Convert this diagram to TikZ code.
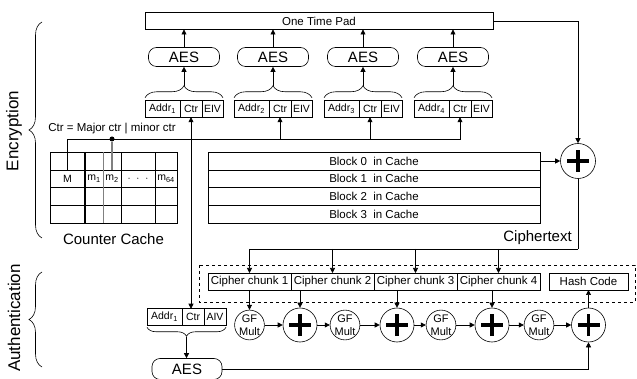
\documentclass[tikz,border=0pt]{standalone}
\usepackage{fontspec}
\setmainfont{Liberation Sans}
\usepackage{tikz}
\usetikzlibrary{positioning, arrows.meta, decorations.pathreplacing}

\newcommand\tinyfs{\fontsize{10.5}{12}\selectfont}
\newcommand\gffs{\fontsize{11}{13.5}\selectfont}
\newcommand\smallfs{\fontsize{11.5}{13}\selectfont}
\newcommand\bigfs{\fontsize{15}{17}\selectfont}
\newcommand\hugefs{\fontsize{17}{20}\selectfont}

\begin{document}
\begin{tikzpicture}[
    x=1pt, y=-1pt, line width=0.6pt,
    box/.style={rectangle, draw, minimum height=17pt, inner sep=0pt, outer sep=0pt, align=center, font=\smallfs},
    cell/.style={rectangle, draw, minimum height=16.5pt, inner sep=0pt, outer sep=0pt, font=\tinyfs},
    aes/.style={rectangle, draw, rounded corners=8pt, minimum width=71pt, minimum height=19pt, inner sep=0pt, font=\bigfs},
    xor/.style={circle, draw, minimum size=34pt, inner sep=0pt, path picture={
        \draw[line width=3.5pt] ([xshift=-11pt]path picture bounding box.center) -- ([xshift=11pt]path picture bounding box.center)
            ([yshift=-11pt]path picture bounding box.center) -- ([yshift=11pt]path picture bounding box.center);}},
    gf/.style={circle, draw, minimum size=27pt, inner sep=0pt, align=center, font=\gffs},
    brace/.style={decorate, decoration={brace, amplitude=#1}},
    brace/.default=10pt,
    arrow/.style={-{Triangle[length=5pt, width=5pt]}},
    dblarrow/.style={{Triangle[length=5pt, width=5pt]}-{Triangle[length=5pt, width=5pt]}},
    dot/.style={circle, fill, inner sep=0pt, minimum size=5pt}
]
    \useasboundingbox (0,0) rectangle (637,379);

    % One time pad and the four AES blocks
    \node[box, minimum width=348pt] (otp) at (319, 21) {One Time Pad};
    \foreach \i/\x in {1/145, 2/234, 3/324, 4/414} {
        \node[cell, minimum width=35pt] (addr\i) at (\x+17.5, 109) {Addr\textsubscript{\i}};
        \node[cell, minimum width=22pt, right=0pt of addr\i] (ctr\i) {Ctr};
        \node[cell, minimum width=21pt, right=0pt of ctr\i] (eiv\i) {EIV};
        \node[aes] (aes\i) at (\x+39, 57) {AES};
        \draw[brace=12pt] ([yshift=3pt]addr\i.north west) -- ([yshift=3pt]eiv\i.north east);
        \coordinate (tip\i) at (\x+39, 86);
        \draw[arrow] (tip\i) -- (aes\i);
        \draw[arrow] (aes\i) -- (aes\i |- otp.south);
    }

    % Counter cache
    \foreach \r in {0,...,3} {
        \foreach \c/\w/\cx/\t in {a/35/67.5/M, b/18/94/m\textsubscript{1}, c/18/112/m\textsubscript{2},
                                  d/34/138/{$\cdot$\ \ $\cdot$\ \ $\cdot$}, e/22/166/m\textsubscript{64}} {
            \node[cell, minimum width=\w pt, minimum height=17.75pt] (cc\r\c) at (\cx, 161+17.75*\r) {\ifnum\r=1 \t\fi};
        }
    }
    \draw[line width=1.6pt] (cc0b.north west) -- (cc3b.south west);
    \draw[gray, line width=1pt] (cc0c.north west) -- (cc3c.south west);
    \node[font=\smallfs] (ctrdef) at (112, 129) {Ctr = Major ctr | minor ctr};
    \node[font=\bigfs] (cclabel) at (113.5, 239) {Counter Cache};

    % Counter bus
    \coordinate (bus) at (68, 139);
    \draw[arrow] (cc1a.north) -- (cc1a.north |- bus) -| (ctr4.south);
    \foreach \i in {2,3}
        \draw[arrow] (ctr\i.south |- bus) -- (ctr\i.south);
    \node[dot] (split) at (cc0c.north |- bus) {};
    \draw[gray, line width=1.2pt] (split) -- (cc1c.north);

    % Data blocks
    \foreach \i in {0,...,3}
        \node[box, minimum width=332pt, minimum height=17.75pt] (blk\i) at (374, 161+17.75*\i) {Block \i\ \ in Cache};
    \node[xor, minimum size=35pt] (xenc) at (578, 161) {};
    \draw[arrow] (blk0) -- (xenc);
    \draw[arrow] (otp) -| (xenc);

    % Ciphertext
    \coordinate (ctxt) at (578, 249);
    \draw (xenc) -- (ctxt);
    \node[font=\bigfs, anchor=south east, inner sep=0pt] (ctlabel) at (572, 245) {Ciphertext};
    \foreach \i in {1,...,4} {
        \node[box, minimum width=83pt] (ch\i) at (166.5+83*\i, 281.5) {Cipher chunk \i};
        \draw[arrow] (ch\i.north |- ctxt) -- (ch\i.north);
    }
    \draw (ctxt) -- (ch1.north |- ctxt);
    \node[box, minimum width=79pt] (hash) at (588.5, 281.5) {Hash Code};
    \draw[dashed] (199, 265) rectangle (635, 302);

    % GHASH chain
    \node[gf] (gf1) at (249.5, 325) {GF\\Mult};
    \node[xor] (x1) at (300, 325) {};
    \node[gf] (gf2) at (345, 325) {GF\\Mult};
    \node[xor] (x2) at (397, 325) {};
    \node[gf] (gf3) at (441, 325) {GF\\Mult};
    \node[xor] (x3) at (492, 325) {};
    \node[gf] (gf4) at (539, 325) {GF\\Mult};
    \node[xor] (x4) at (588.5, 325) {};
    \foreach \a/\b in {gf1/x1, x1/gf2, gf2/x2, x2/gf3, gf3/x3, x3/gf4, gf4/x4}
        \draw[arrow] (\a) -- (\b);
    \draw[arrow] (ch1) -- (gf1);
    \draw[arrow] (x1 |- ch2.south) -- (x1);
    \draw[arrow] (x2 |- ch3.south) -- (x2);
    \draw[arrow] (x3 |- ch4.south) -- (x3);
    \draw[arrow] (x4) -- (hash);

    % Authentication AES
    \node[cell, minimum width=35pt] (aaddr) at (164.5, 317) {Addr\textsubscript{1}};
    \node[cell, minimum width=22pt, right=0pt of aaddr] (actr) {Ctr};
    \node[cell, minimum width=22pt, right=0pt of actr] (aiv) {AIV};
    \draw[dblarrow] (ctr1.south) -- (ctr1.south |- actr.north);
    \draw[brace=9pt] ([yshift=-2pt]aiv.south east) -- ([yshift=-2pt]aaddr.south west);
    \coordinate (atip) at (186.5, 337);
    \node[aes, minimum width=70pt, minimum height=21pt] (aesa) at (187, 369) {AES};
    \draw[arrow] (atip) -- (atip |- aesa.north);
    \draw[arrow] (aesa) -| (x4);

    % Left braces
    \draw[brace=13pt] (42, 238) -- (42, 22);
    \node[font=\hugefs, rotate=90] (enc) at (14, 131) {Encryption};
    \draw[brace=13pt] (42, 367) -- (42, 272);
    \node[font=\hugefs, rotate=90] (auth) at (14, 318) {Authentication};
\end{tikzpicture}
\end{document}
